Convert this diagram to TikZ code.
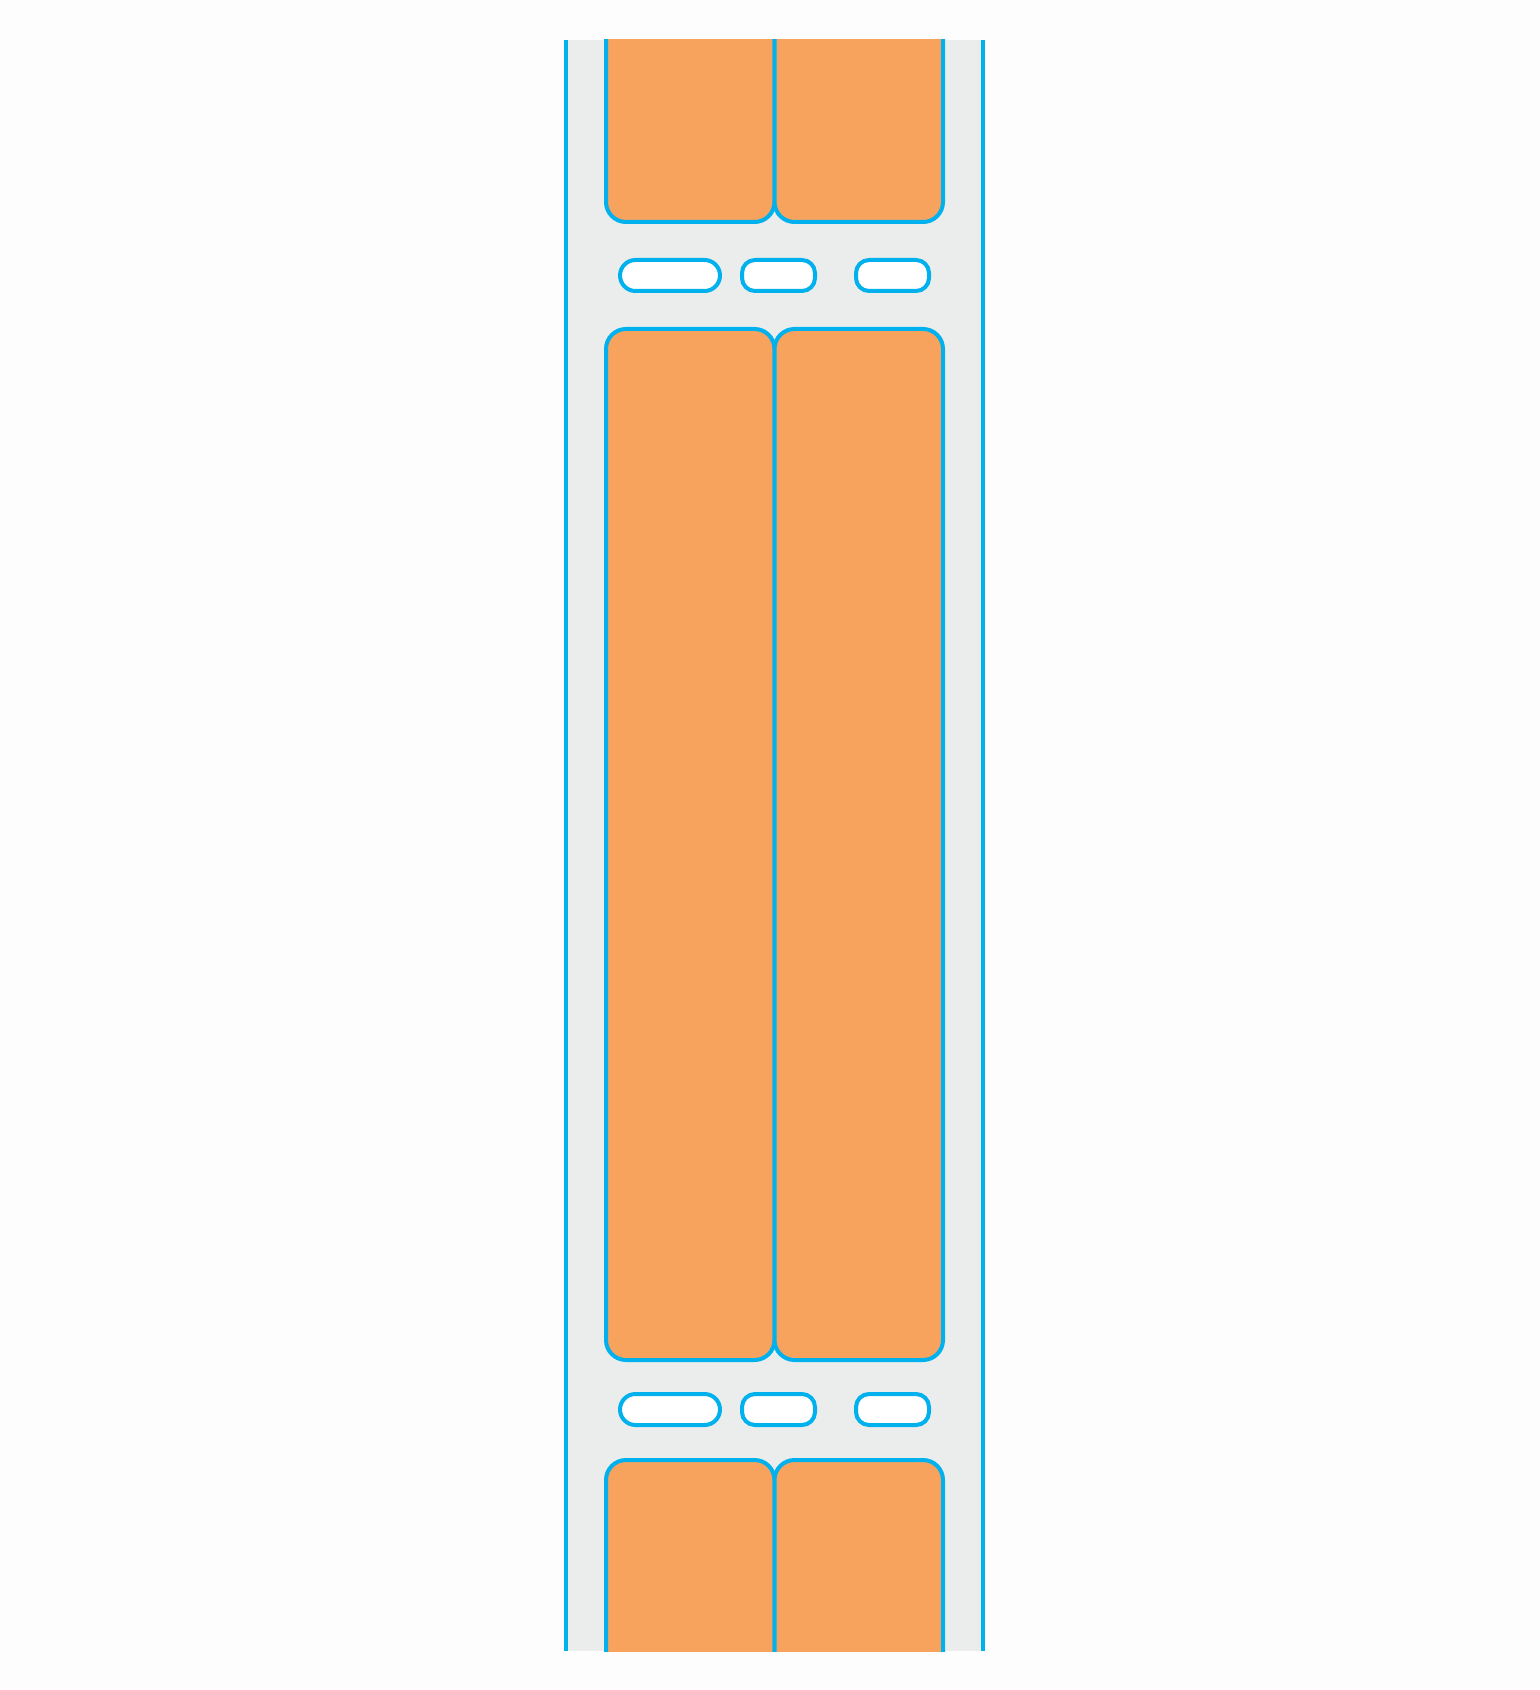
\documentclass[tikz,border=0pt]{standalone}
\definecolor{edgeblue}{HTML}{00B1EE}
\definecolor{boxorange}{HTML}{F7A35E}
\definecolor{bandgray}{HTML}{EBEDEC}
\definecolor{pagebg}{HTML}{FDFDFD}
\tikzset{
  px/.style={x=0.5pt,y=-0.5pt},
  edge/.style={draw=edgeblue,line width=2pt},
  bigbox/.style={edge,fill=boxorange,rounded corners=10pt},
  pillA/.style={edge,fill=white,rounded corners=7.75pt},
  pillB/.style={edge,fill=white,rounded corners=6.5pt},
}
\begin{document}
\begin{tikzpicture}[px]
\fill[pagebg] (0,0) rectangle (1540,1690);
\useasboundingbox (0,0) rectangle (1540,1690);
% band
\fill[bandgray] (566,40) rectangle (983,1651);
\begin{scope}
\clip (0,40) rectangle (1540,1651);
% top boxes (cut off at top)
\draw[bigbox] (606,-40) rectangle (774.5,222);
\draw[bigbox] (774.5,-40) rectangle (943,222);
% middle boxes
\draw[bigbox] (606,329) rectangle (774.5,1360);
\draw[bigbox] (774.5,329) rectangle (943,1360);
% bottom boxes (cut off at bottom)
\draw[bigbox] (606,1460) rectangle (774.5,1740);
\draw[bigbox] (774.5,1460) rectangle (943,1740);
\end{scope}
% pills top row
\draw[pillA] (620,260) rectangle (720,291);
\draw[pillB] (742,260) rectangle (815,291);
\draw[pillB] (856,260) rectangle (929,291);
% pills bottom row
\draw[pillA] (620,1394) rectangle (720,1425);
\draw[pillB] (742,1394) rectangle (815,1425);
\draw[pillB] (856,1394) rectangle (929,1425);
% side rails
\draw[edge] (566,40) -- (566,1651);
\draw[edge] (983,40) -- (983,1651);
\end{tikzpicture}
\end{document}
